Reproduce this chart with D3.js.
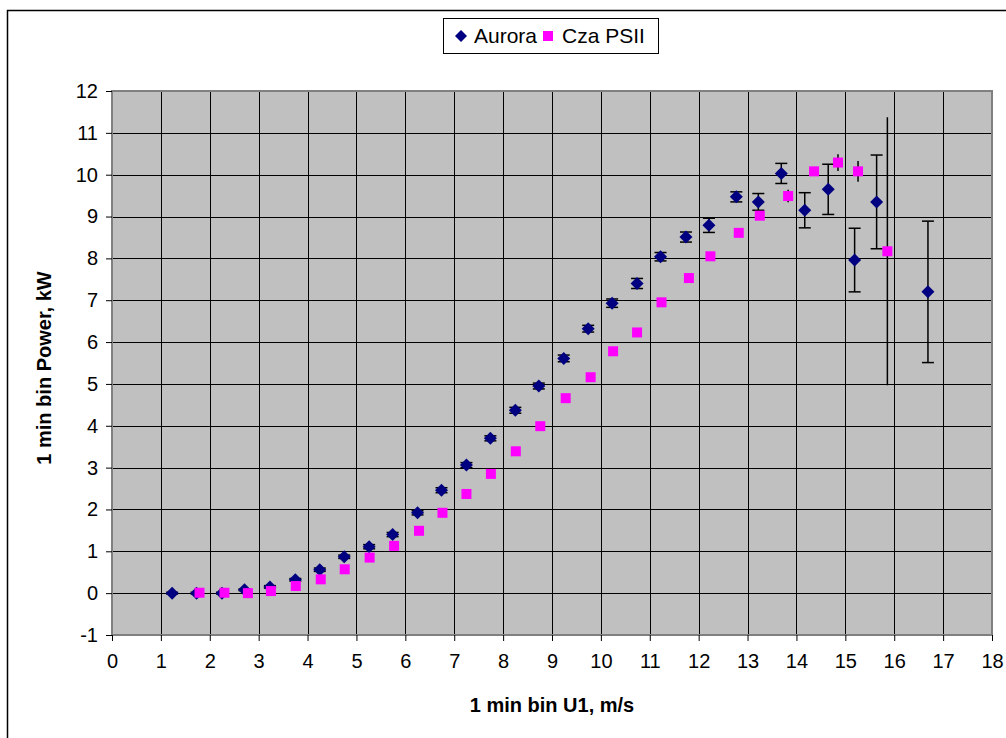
<!DOCTYPE html>
<html>
<head>
<meta charset="utf-8">
<script src="https://cdn.jsdelivr.net/npm/d3@7"></script>
<style>
  body { margin: 0; background: #fff; }
  svg { display: block; font-family: "Liberation Sans", Arial, sans-serif; }
</style>
</head>
<body>
<div id="chart"></div>
<script>
// Aurora series: wind speed bin, power, error half-width
const auroraX = [1.23, 1.73, 2.25, 2.71, 3.23, 3.75, 4.25, 4.75, 5.26, 5.74, 6.25, 6.74, 7.25, 7.74, 8.25, 8.73,
  9.24, 9.74, 10.23, 10.74, 11.22, 11.74, 12.21, 12.77, 13.22, 13.69, 14.17, 14.65, 15.19, 15.64, 16.69];
const auroraY = [0, 0, 0, 0.08, 0.15, 0.32, 0.56, 0.87, 1.11, 1.40, 1.92, 2.46, 3.06, 3.70, 4.37, 4.95,
  5.61, 6.32, 6.93, 7.40, 8.04, 8.51, 8.79, 9.47, 9.35, 10.03, 9.15, 9.65, 7.96, 9.35, 7.20];
const auroraErr = [0.02, 0.02, 0.02, 0.02, 0.03, 0.03, 0.04, 0.04, 0.05, 0.05, 0.05, 0.06, 0.06, 0.06, 0.07, 0.07,
  0.08, 0.08, 0.1, 0.12, 0.1, 0.12, 0.17, 0.12, 0.2, 0.24, 0.42, 0.6, 0.76, 1.12, 1.69];

// Cza PSII series
const czaX = [1.79, 2.30, 2.78, 3.25, 3.76, 4.27, 4.76, 5.27, 5.77, 6.28, 6.76, 7.25, 7.75, 8.26, 8.76,
  9.28, 9.79, 10.25, 10.74, 11.24, 11.80, 12.24, 12.82, 13.25, 13.83, 14.36, 14.85, 15.26, 15.86];
const czaY = [0.01, 0.01, 0, 0.05, 0.17, 0.33, 0.57, 0.85, 1.13, 1.49, 1.92, 2.37, 2.85, 3.39, 3.99,
  4.66, 5.16, 5.78, 6.23, 6.95, 7.53, 8.05, 8.61, 9.02, 9.49, 10.08, 10.29, 10.08, 8.17];
const czaErr = [0, 0, 0, 0, 0, 0, 0, 0, 0, 0, 0, 0, 0, 0, 0,
  0, 0, 0, 0, 0, 0, 0, 0, 0, 0.15, 0, 0.2, 0.25, 3.2];

const xTicks = [0, 1, 2, 3, 4, 5, 6, 7, 8, 9, 10, 11, 12, 13, 14, 15, 16, 17, 18];
const yTicks = [-1, 0, 1, 2, 3, 4, 5, 6, 7, 8, 9, 10, 11, 12];
const seriesNames = ["Aurora", "Cza PSII"];

const W = 1006, H = 738;
const plot = { left: 112, right: 992, top: 91, bottom: 635 };

const svg = d3.select("#chart").append("svg")
  .attr("width", W)
  .attr("height", H);

// outer chart frame
svg.append("rect")
  .attr("x", 7.5).attr("y", 10.5)
  .attr("width", W + 10).attr("height", H + 10)
  .attr("fill", "#fff").attr("stroke", "#000").attr("stroke-width", 1.5);

const x = d3.scaleLinear().domain([0, 18]).range([plot.left, plot.right]);
const y = d3.scaleLinear().domain([-1, 12]).range([plot.bottom, plot.top]);

// plot background
svg.append("rect")
  .attr("x", plot.left).attr("y", plot.top)
  .attr("width", plot.right - plot.left).attr("height", plot.bottom - plot.top)
  .attr("fill", "#c0c0c0");

// grid
svg.append("g").selectAll("line")
  .data(xTicks.slice(1, -1))
  .join("line")
  .attr("x1", d => Math.round(x(d)) + 0.5).attr("x2", d => Math.round(x(d)) + 0.5)
  .attr("y1", plot.top).attr("y2", plot.bottom)
  .attr("stroke", "#000").attr("stroke-width", 1);

svg.append("g").selectAll("line")
  .data(yTicks.slice(1, -1))
  .join("line")
  .attr("x1", plot.left).attr("x2", plot.right)
  .attr("y1", d => Math.round(y(d)) + 0.5).attr("y2", d => Math.round(y(d)) + 0.5)
  .attr("stroke", "#000").attr("stroke-width", 1);

// plot border
svg.append("rect")
  .attr("x", plot.left).attr("y", plot.top)
  .attr("width", plot.right - plot.left).attr("height", plot.bottom - plot.top)
  .attr("fill", "none").attr("stroke", "#808080").attr("stroke-width", 2);

// axes (plain hyphen for negatives, like the original)
const xAxis = d3.axisBottom(x).tickValues(xTicks).tickSize(6).tickPadding(13).tickFormat(d => String(d));
const yAxis = d3.axisLeft(y).tickValues(yTicks).tickSize(6).tickPadding(8).tickFormat(d => String(d));

const gx = svg.append("g")
  .attr("transform", `translate(0,${plot.bottom})`)
  .call(xAxis);
const gy = svg.append("g")
  .attr("transform", `translate(${plot.left},0)`)
  .call(yAxis);

[gx, gy].forEach(g => {
  g.select(".domain").remove();
  g.selectAll(".tick line").attr("stroke", "#000");
  g.selectAll(".tick text")
    .attr("fill", "#000")
    .style("font-size", "20px")
    .style("font-family", "'Liberation Sans', Arial, sans-serif");
});

// axis titles
svg.append("text")
  .attr("x", (plot.left + plot.right) / 2)
  .attr("y", 712)
  .attr("text-anchor", "middle")
  .style("font-size", "20px")
  .style("font-weight", "bold")
  .text("1 min bin U1, m/s");

svg.append("text")
  .attr("transform", `translate(51,${(plot.top + plot.bottom) / 2 + 5}) rotate(-90)`)
  .attr("text-anchor", "middle")
  .style("font-size", "20px")
  .style("font-weight", "bold")
  .text("1 min bin Power, kW");

const aurora = auroraX.map((v, i) => ({ x: v, y: auroraY[i], e: auroraErr[i] }));
const cza = czaX.map((v, i) => ({ x: v, y: czaY[i], e: czaErr[i] }));

// Aurora error bars with caps
const ae = svg.append("g").attr("stroke", "#000").attr("stroke-width", 1.5);
ae.selectAll(".v").data(aurora).join("line")
  .attr("x1", d => x(d.x)).attr("x2", d => x(d.x))
  .attr("y1", d => y(d.y - d.e)).attr("y2", d => y(d.y + d.e));
ae.selectAll(".t").data(aurora).join("line")
  .attr("x1", d => x(d.x) - 6).attr("x2", d => x(d.x) + 6)
  .attr("y1", d => y(d.y + d.e)).attr("y2", d => y(d.y + d.e));
ae.selectAll(".b").data(aurora).join("line")
  .attr("x1", d => x(d.x) - 6).attr("x2", d => x(d.x) + 6)
  .attr("y1", d => y(d.y - d.e)).attr("y2", d => y(d.y - d.e));

// Aurora diamonds
svg.append("g").selectAll("path")
  .data(aurora)
  .join("path")
  .attr("d", "M0,-6.5L6.5,0L0,6.5L-6.5,0Z")
  .attr("transform", d => `translate(${x(d.x)},${y(d.y)})`)
  .attr("fill", "#000080");

// Cza PSII error bars (no caps)
svg.append("g").selectAll("line")
  .data(cza.filter(d => d.e > 0))
  .join("line")
  .attr("x1", d => x(d.x)).attr("x2", d => x(d.x))
  .attr("y1", d => y(d.y - d.e)).attr("y2", d => y(d.y + d.e))
  .attr("stroke", "#000").attr("stroke-width", 1.5);

// Cza PSII squares
svg.append("g").selectAll("rect")
  .data(cza)
  .join("rect")
  .attr("x", d => x(d.x) - 5).attr("y", d => y(d.y) - 5)
  .attr("width", 10).attr("height", 10)
  .attr("fill", "#ff00ff");

// legend
const legend = svg.append("g");
legend.append("rect")
  .attr("x", 443.5).attr("y", 18.5)
  .attr("width", 215).attr("height", 35)
  .attr("fill", "#fff").attr("stroke", "#000").attr("stroke-width", 1);
legend.append("path")
  .attr("d", "M0,-6L6,0L0,6L-6,0Z")
  .attr("transform", "translate(461,36)")
  .attr("fill", "#000080");
legend.append("text")
  .attr("x", 474).attr("y", 43)
  .style("font-size", "21px")
  .text(seriesNames[0]);
legend.append("rect")
  .attr("x", 543).attr("y", 31)
  .attr("width", 10).attr("height", 10)
  .attr("fill", "#ff00ff");
legend.append("text")
  .attr("x", 562).attr("y", 43)
  .style("font-size", "21px")
  .text(seriesNames[1]);
</script>
</body>
</html>
